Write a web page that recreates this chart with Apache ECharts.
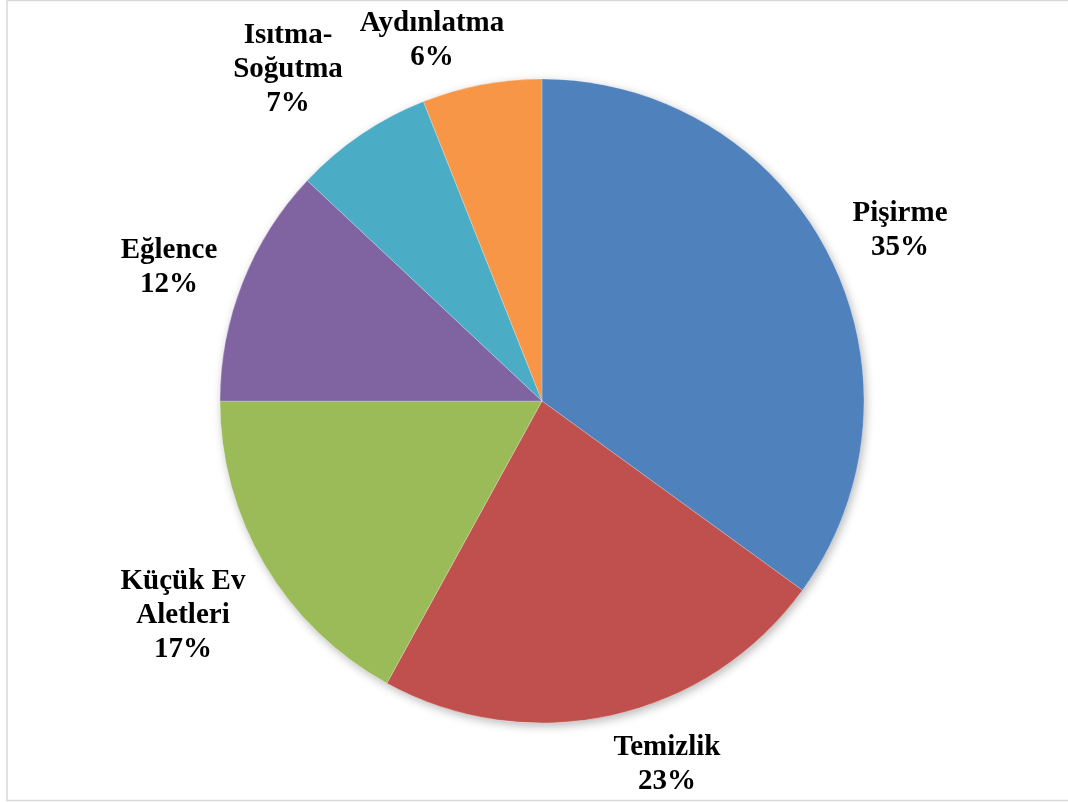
<!DOCTYPE html>
<html>
<head>
<meta charset="utf-8">
<script src="https://cdn.jsdelivr.net/npm/echarts@6/dist/echarts.min.js"></script>
<style>
  html, body { margin: 0; padding: 0; background: #fff; }
  #chart { width: 1068px; height: 803px; }
</style>
</head>
<body>
<div id="chart"></div>
<script>
// Household electricity use by appliance group (%)
const categories = ['Pişirme', 'Temizlik', 'Küçük Ev\nAletleri', 'Eğlence', 'Isıtma-\nSoğutma', 'Aydınlatma'];
const shares = [35, 23, 17, 12, 7, 6];
const sliceColors = ['#4F81BD', '#C0504D', '#9BBB59', '#8064A2', '#4BACC6', '#F79646'];

// pie geometry and where each label block is centred (best-fit placement outside the disc)
const pieCenter = [542, 401];
const pieRadius = 322;
const labelCenters = [[900, 231], [667, 765], [183, 616], [169, 268], [288, 70], [432, 41]];

const data = categories.map((name, i) => ({
  name: name,
  value: shares[i],
  itemStyle: { color: sliceColors[i] }
}));

const chart = echarts.init(document.getElementById('chart'), null, { renderer: 'canvas' });

chart.setOption({
  backgroundColor: '#ffffff',
  animation: false,
  graphic: [{
    type: 'rect',
    shape: { x: 7, y: 0.5, width: 1080, height: 800 },
    style: { fill: 'none', stroke: '#d9d9d9', lineWidth: 1.5 },
    silent: true,
    z: 0
  }],
  series: [
    // soft drop shadow under the whole disc
    {
      type: 'pie',
      silent: true,
      center: pieCenter,
      radius: [0, pieRadius],
      label: { show: false },
      labelLine: { show: false },
      itemStyle: {
        color: '#ffffff',
        shadowBlur: 10,
        shadowOffsetX: 2,
        shadowOffsetY: 3,
        shadowColor: 'rgba(0,0,0,0.28)'
      },
      data: [{ name: '', value: 1 }],
      z: 1
    },
    {
      type: 'pie',
      silent: true,
      center: pieCenter,
      radius: [0, pieRadius],
      startAngle: 90,
      clockwise: true,
      itemStyle: { borderColor: 'rgba(255,255,255,0.35)', borderWidth: 0.6 },
      labelLine: { show: false },
      label: {
        show: true,
        position: 'inside',
        align: 'center',
        verticalAlign: 'middle',
        fontFamily: '"Liberation Serif", "Times New Roman", serif',
        fontWeight: 'bold',
        fontSize: 29,
        lineHeight: 34,
        color: '#000',
        formatter: p => p.name + '\n' + p.value + '%'
      },
      labelLayout: p => ({
        x: labelCenters[p.dataIndex][0],
        y: labelCenters[p.dataIndex][1],
        align: 'center',
        verticalAlign: 'middle'
      }),
      data: data,
      z: 2
    }
  ]
});
</script>
</body>
</html>
